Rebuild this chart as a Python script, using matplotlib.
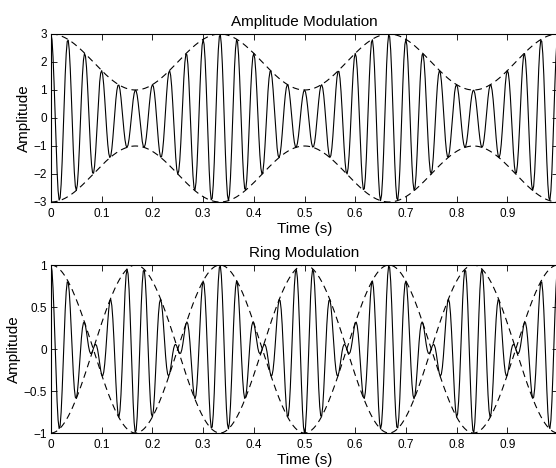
import numpy as np
import matplotlib.pyplot as plt
from matplotlib.ticker import FuncFormatter

plt.rcParams['font.family'] = ['Liberation Sans', 'DejaVu Sans']

# signal parameters
fs = 500            # samples per second
carrier_hz = 30     # 30 carrier peaks per second
mod_hz = 3          # envelope repeats every 1/3 s
am_offset = 2       # AM envelope swings between 1 and 3

x_ticks = [0, 0.1, 0.2, 0.3, 0.4, 0.5, 0.6, 0.7, 0.8, 0.9, 1]
am_yticks = [-3, -2, -1, 0, 1, 2, 3]
rm_yticks = [-1, -0.5, 0, 0.5, 1]

t = np.arange(0, 1 + 1 / fs, 1 / fs)
carrier = np.cos(2 * np.pi * carrier_hz * t)
modulator = np.cos(2 * np.pi * mod_hz * t)

am_env = am_offset + modulator
am_sig = am_env * carrier
rm_env = modulator
rm_sig = rm_env * carrier

fmt = FuncFormatter(lambda v, p: ('%g' % v).replace('-', '\u2212'))

fig = plt.figure(figsize=(5.56, 4.68), dpi=100)
ax1 = fig.add_axes([51 / 556, 1 - 202 / 468, 507 / 556, 168 / 468])
ax2 = fig.add_axes([51 / 556, 1 - 433 / 468, 507 / 556, 168 / 468])

panels = [
    (ax1, am_sig, am_env, am_yticks, 'Amplitude Modulation'),
    (ax2, rm_sig, rm_env, rm_yticks, 'Ring Modulation'),
]

for ax, sig, env, yt, title in panels:
    ax.plot(t, sig, color='black', linewidth=0.8)
    ax.plot(t, env, color='black', linewidth=0.8, linestyle=(0, (6, 4)))
    ax.plot(t, -env, color='black', linewidth=0.8, linestyle=(0, (6, 4)))
    ax.set_xlim(0, 1)
    ax.set_ylim(yt[0], yt[-1])
    ax.set_xticks(x_ticks)
    ax.set_yticks(yt)
    ax.xaxis.set_major_formatter(fmt)
    ax.yaxis.set_major_formatter(fmt)
    ax.tick_params(direction='in', top=True, right=True, length=4,
                   width=0.6, labelsize=8.5, pad=3)
    ax.tick_params(axis='x', pad=4)
    for s in ax.spines.values():
        s.set_linewidth(0.8)
    ax.set_xlabel('Time (s)', fontsize=11, labelpad=2)
    ax.set_ylabel('Amplitude', fontsize=11, labelpad=2)
    ax.set_title(title, fontsize=11, pad=6)

fig.savefig('out.png', dpi=100)
